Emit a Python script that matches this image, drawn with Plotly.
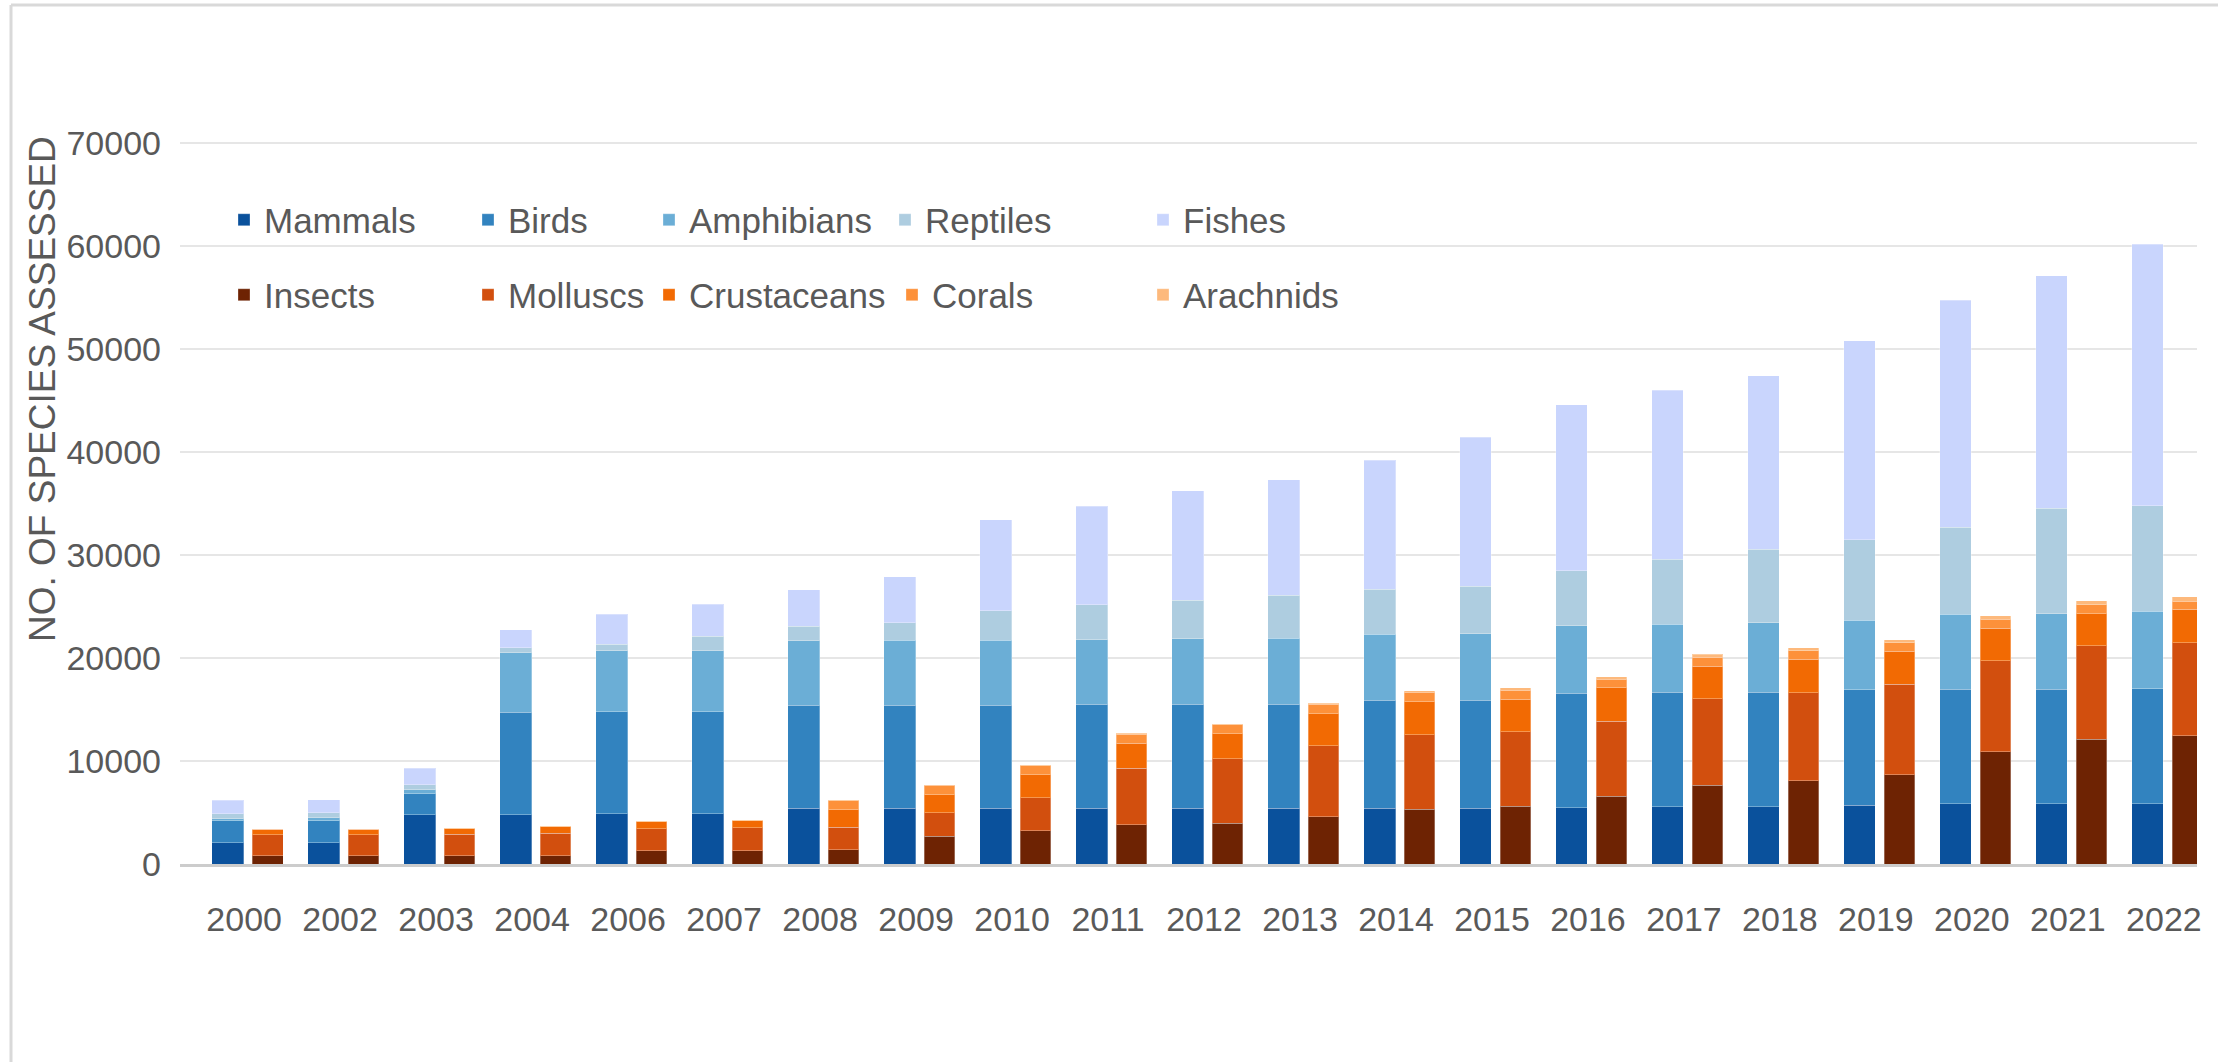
import plotly.graph_objects as go

years = ["2000", "2002", "2003", "2004", "2006", "2007", "2008", "2009", "2010", "2011",
         "2012", "2013", "2014", "2015", "2016", "2017", "2018", "2019", "2020", "2021", "2022"]

# Vertebrates (left bar of each year)
mammals = [2040, 2040, 4760, 4760, 4860, 4860, 5410, 5410, 5410, 5390, 5390, 5390, 5420, 5420,
           5450, 5570, 5570, 5700, 5850, 5850, 5850]
birds = [2170, 2170, 2080, 9980, 9940, 9940, 10010, 10010, 10010, 10140, 10140, 10140, 10500, 10500,
         11150, 11130, 11130, 11230, 11110, 11110, 11170]
amphibians = [190, 260, 380, 5760, 5900, 5900, 6280, 6320, 6320, 6250, 6350, 6410, 6380, 6440,
              6520, 6600, 6730, 6760, 7280, 7340, 7540]
reptiles = [490, 490, 490, 490, 650, 1420, 1400, 1710, 2860, 3400, 3750, 4180, 4400, 4630,
            5340, 6280, 7120, 7800, 8460, 10230, 10230]
fishes = [1300, 1290, 1590, 1750, 2910, 3080, 3530, 4440, 8850, 9560, 10600, 11210, 12490, 14460,
          16140, 16440, 16860, 19320, 22060, 22590, 25400]

# Invertebrates (right bar of each year)
insects = [810, 810, 810, 810, 1300, 1300, 1360, 2690, 3230, 3830, 3960, 4580, 5320, 5590,
           6580, 7650, 8070, 8690, 10920, 12100, 12430]
molluscs = [2010, 2010, 2070, 2170, 2130, 2200, 2200, 2300, 3220, 5460, 6270, 6880, 7210, 7250,
            7280, 8400, 8560, 8750, 8820, 9070, 9060]
crustaceans = [550, 550, 560, 620, 660, 680, 1720, 1720, 2200, 2430, 2400, 3150, 3220, 3170,
               3260, 3170, 3240, 3210, 3170, 3130, 3230]
corals = [0, 0, 0, 0, 0, 0, 870, 940, 870, 880, 880, 910, 940, 860,
          810, 880, 840, 810, 840, 880, 810]
arachnids = [60, 60, 60, 60, 60, 60, 100, 60, 100, 90, 130, 100, 130, 260,
             230, 290, 290, 320, 360, 390, 420]

y_ticks = [0, 10000, 20000, 30000, 40000, 50000, 60000, 70000]

vert = [("Mammals", mammals, "#0A519C"), ("Birds", birds, "#3283BF"),
        ("Amphibians", amphibians, "#6BAED6"), ("Reptiles", reptiles, "#AECDE0"),
        ("Fishes", fishes, "#C9D5FD")]
inv = [("Insects", insects, "#6E2303"), ("Molluscs", molluscs, "#D24F0E"),
       ("Crustaceans", crustaceans, "#F26A03"), ("Corals", corals, "#FD913A"),
       ("Arachnids", arachnids, "#FDB97C")]

W, H = 2218, 1062
ML, MR, MT, MB = 180, 21, 140, 198
PW, PH = W - ML - MR, H - MT - MB
def px_x(p):
    return (p - ML) / PW
def px_y(p):
    return (H - MB - p) / PH

FONT = "Liberation Sans, Arial, sans-serif"
GREY = "#595959"

idx = list(range(len(years)))
fig = go.Figure()

col_x = [224, 468, 649, 885, 1143]
row_y = [220, 295]
legends = {}
n = 0
for row, group, off, wd in [(0, vert, -0.205, 0.33), (1, inv, 0.21, 0.32)]:
    for c, (name, vals, color) in enumerate(group):
        n += 1
        lid = "legend" if n == 1 else f"legend{n}"
        fig.add_trace(go.Bar(
            name=name, x=[i + off for i in idx], y=vals, width=wd,
            marker=dict(color=color, line=dict(color="rgba(255,255,255,0.3)", width=1)),
            legend=lid,
        ))
        legends[lid] = dict(
            x=px_x(col_x[c] + (7 if (row == 1 and c == 3) else 0)), y=px_y(row_y[row]),
            xanchor="left", yanchor="middle", bgcolor="rgba(0,0,0,0)", borderwidth=0,
            font=dict(family=FONT, size=35, color=GREY), orientation="v",
        )

fig.update_layout(
    width=W, height=H,
    margin=dict(l=ML, r=MR, t=MT, b=MB, autoexpand=False),
    paper_bgcolor="white", plot_bgcolor="white",
    barmode="stack", showlegend=True,
    font=dict(family=FONT, color=GREY),
    **legends,
)
fig.update_xaxes(
    range=[-0.703, 20.31], tickmode="array", tickvals=[i - 0.035 for i in idx], ticktext=years,
    showgrid=False, zeroline=False, showline=True, linecolor="#CCCCCC", linewidth=3,
    ticks="", tickfont=dict(family=FONT, size=34, color=GREY), ticklabelstandoff=23,
)
fig.update_yaxes(
    range=[0, 70300], tickmode="array", tickvals=y_ticks, ticktext=[str(v) for v in y_ticks],
    showgrid=True, gridcolor="#E6E6E6", gridwidth=2, zeroline=False, showline=False,
    ticks="", tickfont=dict(family=FONT, size=34, color=GREY), ticklabelstandoff=18,
)
fig.add_annotation(
    text="NO. OF SPECIES ASSESSED", textangle=-90, xref="paper", yref="paper",
    x=px_x(42), y=px_y(389), xanchor="center", yanchor="middle", showarrow=False,
    font=dict(family=FONT, size=37, color=GREY),
)
# chart frame (top and left edges)
fig.add_shape(type="line", xref="paper", yref="paper", x0=px_x(11), x1=px_x(W), y0=px_y(5), y1=px_y(5),
              line=dict(color="#D9D9D9", width=3))
fig.add_shape(type="line", xref="paper", yref="paper", x0=px_x(11), x1=px_x(11), y0=px_y(5), y1=px_y(H),
              line=dict(color="#D9D9D9", width=3))

fig.write_html("out.html", config={"displayModeBar": False},
               post_script="document.body.style.margin='0px';")
